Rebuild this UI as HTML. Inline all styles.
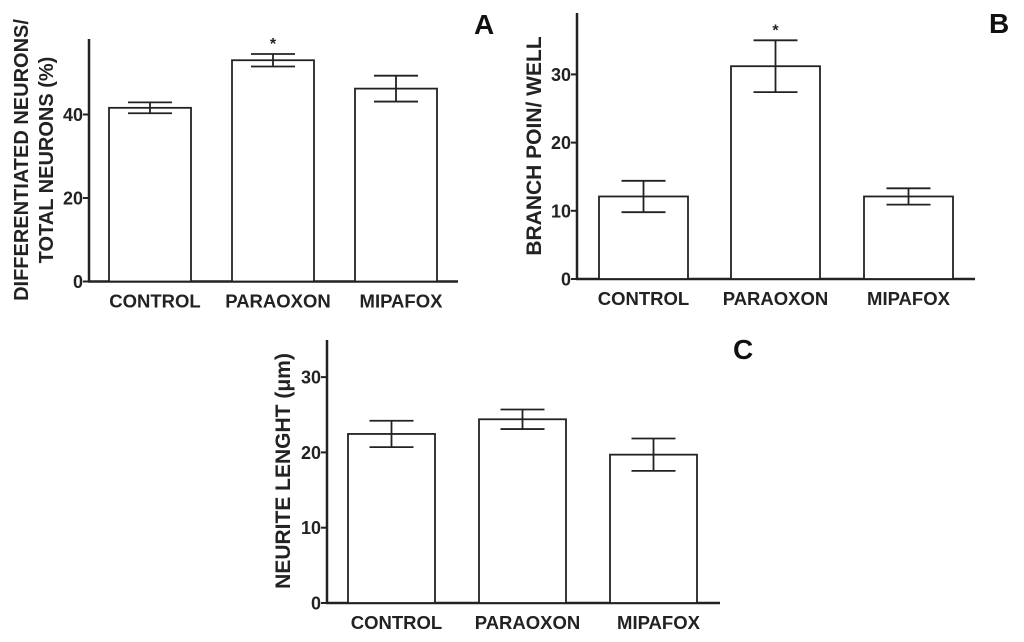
<!DOCTYPE html>
<html><head><meta charset="utf-8"><style>
html,body{margin:0;padding:0;background:#fff;}
svg{display:block;font-family:"Liberation Sans",Arial,sans-serif;font-weight:bold;}
</style></head><body>
<svg id="c" width="1024" height="642" viewBox="0 0 1024 642"></svg>
<script>
const categories = ["CONTROL","PARAOXON","MIPAFOX"];
const valuesA = [41.6, 53.0, 46.2];
const errA = [1.3, 1.5, 3.1];
const ticksA = [0, 20, 40];
const valuesB = [12.1, 31.2, 12.1];
const errB = [2.3, 3.8, 1.2];
const ticksB = [0, 10, 20, 30];
const valuesC = [22.45, 24.4, 19.7];
const errC = [1.75, 1.3, 2.15];
const ticksC = [0, 10, 20, 30];
const starsA = [false, true, false];
const starsB = [false, true, false];

const NS = "http://www.w3.org/2000/svg";
const svg = document.getElementById('c');
function mk(tag, attrs, parent){const e=document.createElementNS(NS,tag);for(const k in attrs)e.setAttribute(k,attrs[k]);(parent||svg).appendChild(e);return e;}

function panel(cfg){
  const g = mk('g',{});
  
  
  const y = v => cfg.y0 - v*cfg.ppu;
  const ya = mk('line',{x1:cfg.ax,y1:cfg.top,x2:cfg.ax,y2:cfg.y0+1,stroke:'#222','stroke-width':2.5},g);
  
  
  const xa = mk('line',{x1:cfg.ax-1,y1:cfg.y0,x2:cfg.axEnd,y2:cfg.y0,stroke:'#222','stroke-width':2.5},g);
  
  
  cfg.ticks.forEach(t=>{
    mk('line',{x1:cfg.ax-6,y1:y(t),x2:cfg.ax,y2:y(t),stroke:'#222','stroke-width':2},g);
    const tl = mk('text',{x:cfg.ax-6,y:y(t)+6.5,'text-anchor':'end','font-size':18,fill:'#222'},g);
    tl.textContent = t;
    
    
  });
  cfg.vals.forEach((v,i)=>{
    const x0 = cfg.barX[i];
    const r = mk('rect',{x:x0,y:y(v),width:cfg.bw,height:cfg.y0-y(v),fill:'#fff',stroke:'#222','stroke-width':1.8},g);
    
    
    const cx = x0 + cfg.bw/2, e = cfg.err[i];
    const eg = mk('g',{stroke:'#222','stroke-width':1.8},g);
    
    
    mk('line',{x1:cx,y1:y(v+e),x2:cx,y2:y(v-e)},eg);
    mk('line',{x1:cx-22,y1:y(v+e),x2:cx+22,y2:y(v+e)},eg);
    mk('line',{x1:cx-22,y1:y(v-e),x2:cx+22,y2:y(v-e)},eg);
    if(cfg.stars && cfg.stars[i]){
      const s = mk('text',{x:cx,y:y(v+e)-5,'text-anchor':'middle','font-size':16,fill:'#222'},g);
      s.textContent='*';
      
      
    }
    const cl = mk('text',{x:cx+cfg.labDx,y:cfg.y0+26,'text-anchor':'middle','font-size':18.5,fill:'#222'},g);
    cl.textContent = categories[i];
    
    
  });
  cfg.titles.forEach((t,k)=>{
    const tt = mk('text',{transform:`translate(${cfg.titleX[k]},${cfg.titleY}) rotate(-90)`,'text-anchor':'middle','font-size':cfg.titleSize,fill:'#222'},g);
    tt.textContent = t;
    
    
  });
  const L = mk('text',{x:cfg.letterX,y:cfg.letterY,'font-size':28,fill:'#111'},g);
  L.textContent = cfg.id;
  
  
}

panel({id:'A',ax:89,axEnd:458,top:39,y0:281.5,ppu:4.175,ticks:ticksA,vals:valuesA,err:errA,stars:starsA,
  barX:[109,232,355],bw:82,labDx:5,titles:['DIFFERENTIATED NEURONS/','TOTAL NEURONS (%)'],titleX:[28,53],titleY:160,titleSize:20,letterX:474,letterY:34});
panel({id:'B',ax:577,axEnd:975,top:13,y0:279,ppu:6.82,ticks:ticksB,vals:valuesB,err:errB,stars:starsB,
  barX:[599,731,864],bw:89,labDx:0,titles:['BRANCH POIN/ WELL'],titleX:[541],titleY:146,titleSize:21,letterX:989,letterY:33});
panel({id:'C',ax:327,axEnd:720,top:340,y0:603,ppu:7.53,ticks:ticksC,vals:valuesC,err:errC,stars:null,
  barX:[348,479,610],bw:87,labDx:5,titles:['NEURITE LENGHT (\u03bcm)'],titleX:[290],titleY:471,titleSize:21,letterX:733,letterY:359});
</script>
</body></html>
